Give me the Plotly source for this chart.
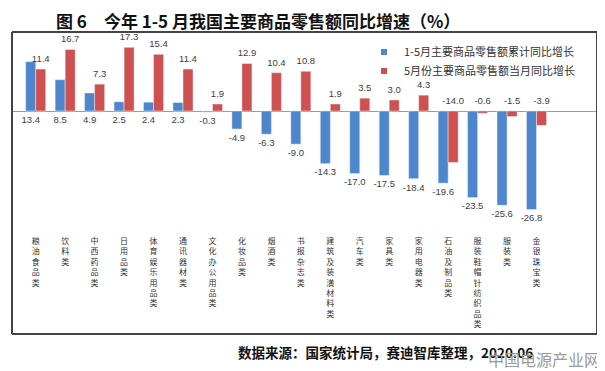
import plotly.graph_objects as go

categories = ["粮油食品类", "饮料类", "中西药品类", "日用品类", "体育娱乐用品类", "通讯器材类",
              "文化办公用品类", "化妆品类", "烟酒类", "书报杂志类", "建筑及装潢材料类", "汽车类",
              "家具类", "家用电器类", "石油及制品类", "服装鞋帽针纺织品类", "服装类", "金银珠宝类"]
cum_growth = [13.4, 8.5, 4.9, 2.5, 2.4, 2.3, -0.3, -4.9, -6.3, -9.0, -14.3, -17.0, -17.5,
              -18.4, -19.6, -23.5, -25.6, -26.8]
may_growth = [11.4, 16.7, 7.3, 17.3, 15.4, 11.4, 1.9, 12.9, 10.4, 10.8, 1.9, 3.5, 3.0, 4.3,
              -14.0, -0.6, -1.5, -3.9]
series_names = ["1-5月主要商品零售额累计同比增长", "5月份主要商品零售额当月同比增长"]
title_text = "图 6　今年 1-5 月我国主要商品零售额同比增速（%）"
source_text = "数据来源：国家统计局，赛迪智库整理，2020.06"

BLUE = "#4D86CC"
RED = "#CF5050"
OFF = 8                      # page offset of the figure (browser body margin)
W, H = 605 - OFF, 371 - OFF
BOX_L, BOX_R, BOX_T, BOX_B = 12, 597, 32, 334     # screen px of framed plot area
L, R, T, B = BOX_L - OFF, W - (BOX_R - OFF), BOX_T - OFF, H - (BOX_B - OFF)
PW, PH = W - L - R, H - T - B
ZERO_PX, SCALE = 111, 3.68   # screen y of zero line, px per unit
CAT0_PX, CAT_STEP = 35.7, 29.46
ymax = (ZERO_PX - BOX_T) / SCALE
ymin = -(BOX_B - ZERO_PX) / SCALE
xlo = (BOX_L - CAT0_PX) / CAT_STEP
xhi = (BOX_R - CAT0_PX) / CAT_STEP
LBL = 9.5 / SCALE
TICK_AXIS_PX = 235


def px(xs):
    return (xs - OFF - L) / PW


def py(ys):
    return (H - B - (ys - OFF)) / PH


idx = list(range(len(categories)))
ticktext = ["<br>".join(list(c)) for c in categories]

fig = go.Figure()
fig.add_trace(go.Bar(x=idx, y=cum_growth, marker_color=BLUE, name=series_names[0],
                     showlegend=False, hoverinfo="skip"))
fig.add_trace(go.Bar(x=idx, y=may_growth, marker_color=RED, name=series_names[1],
                     showlegend=False, hoverinfo="skip"))

off = 0.17
fig.add_trace(go.Scatter(
    x=[i - off for i in idx], y=[min(v, 0) - LBL for v in cum_growth], xaxis="x2",
    text=[f"{v:.1f}" for v in cum_growth], mode="text", textposition="middle center",
    textfont=dict(family="Liberation Sans", size=9.5, color="#404040"),
    showlegend=False, hoverinfo="skip"))
fig.add_trace(go.Scatter(
    x=[i + off for i in idx], y=[max(v, 0) + LBL for v in may_growth], xaxis="x2",
    text=[f"{v:.1f}" for v in may_growth], mode="text", textposition="middle center",
    textfont=dict(family="Liberation Sans", size=9.5, color="#404040"),
    showlegend=False, hoverinfo="skip"))

for name, col in zip(series_names, [BLUE, RED]):
    fig.add_trace(go.Scatter(x=[None], y=[None], mode="markers", name=name,
                             marker=dict(symbol="square", size=6, color=col)))


def ann(text, x, y, size, color):
    fig.add_annotation(text=text, x=px(x), y=py(y), xref="paper", yref="paper",
                       xanchor="center", yanchor="middle", showarrow=False, borderpad=0,
                       font=dict(family="Noto Sans CJK SC", size=size, color=color))


ann(f"<b>{title_text}</b>", 258, 20, 17, "#111")
ann(f"<b>{source_text}</b>", 386, 352, 13.5, "#111")
ann("中国电源产业网", 544, 359, 16, "#9a9a9a")

frame = dict(color="#444", width=2)
for x0, y0, x1, y1 in [(BOX_L, BOX_T, BOX_R, BOX_T), (BOX_L, BOX_B, BOX_R, BOX_B),
                       (BOX_L, BOX_T, BOX_L, BOX_B), (BOX_R, BOX_T, BOX_R, BOX_B)]:
    fig.add_shape(type="line", xref="paper", yref="paper", x0=px(x0), x1=px(x1),
                  y0=py(y0), y1=py(y1), line=frame)

fig.update_layout(
    width=W, height=H, margin=dict(l=L, r=R, t=T, b=B, autoexpand=False),
    paper_bgcolor="white", plot_bgcolor="white",
    barmode="group", bargap=0.32, bargroupgap=0,
    legend=dict(x=px(364), y=py(61.5), xanchor="left", yanchor="middle",
                font=dict(family="Noto Sans CJK SC", size=11, color="#333"),
                bgcolor="rgba(0,0,0,0)", tracegroupgap=0),
    xaxis=dict(range=[xlo, xhi], anchor="y", showline=False, showticklabels=False,
               ticks="", showgrid=False, zeroline=False, automargin=False),
    xaxis2=dict(range=[xlo, xhi], overlaying="x", anchor="free", position=py(TICK_AXIS_PX),
                tickvals=idx, ticktext=ticktext, showgrid=False, zeroline=False,
                showline=False, ticks="", automargin=False, tickangle=0,
                tickfont=dict(family="Noto Sans CJK SC", size=8, color="#333")),
    yaxis=dict(range=[ymin, ymax], showgrid=False, showticklabels=False, ticks="",
               automargin=False, showline=False,
               zeroline=True, zerolinecolor="#9a9a9a", zerolinewidth=1),
)

fig.write_html("out.html")
